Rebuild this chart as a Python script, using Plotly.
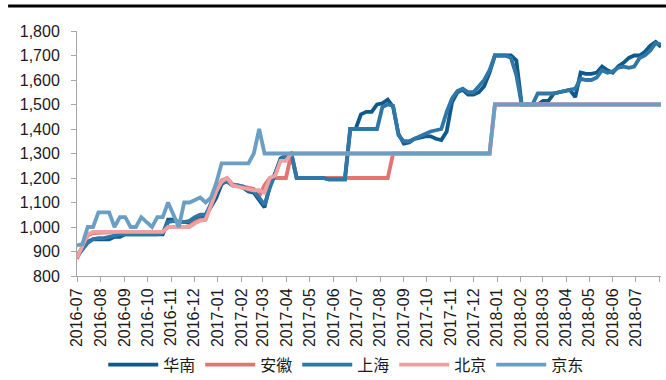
import pandas as pd
import plotly.graph_objects as go

# Weekly observation dates (Friday prints), Jul 2016 - Aug 2018
weeks = pd.date_range("2016-07-01", periods=110, freq="7D")

# 华南
south_china = [
    885, 910, 940, 950, 950, 950, 950, 960, 960, 970,
    970, 970, 970, 970, 970, 970, 970, 1030, 1030, 1020,
    1020, 1020, 1035, 1045, 1045, 1085, 1120, 1175, 1190, 1170,
    1170, 1160, 1145, 1140, 1110, 1080, 1170, 1220, 1280, 1290,
    1300, 1200, 1200, 1200, 1200, 1200, 1200, 1195, 1195, 1195,
    1195, 1400, 1400, 1460, 1470, 1470, 1500, 1505, 1520, 1490,
    1380, 1340, 1345, 1360, 1365, 1370, 1370, 1360, 1355, 1390,
    1510, 1550, 1560, 1540, 1540, 1550, 1575, 1630, 1700, 1700,
    1700, 1700, 1680, 1500, 1500, 1500, 1500, 1515, 1515, 1545,
    1550, 1555, 1560, 1530, 1630, 1625, 1625, 1630, 1655, 1640,
    1630, 1655, 1670, 1690, 1700, 1700, 1715, 1740, 1755, 1735,
]

# 安徽
anhui = [
    870, 920, 965, 975, 975, 975, 978, 980, 980, 980,
    980, 980, 980, 980, 980, 980, 980, 1000, 1000, 1000,
    1000, 1005, 1020, 1030, 1030, 1095, 1150, 1190, 1200, 1175,
    1170, 1165, 1160, 1155, 1125, 1170, 1200, 1200, 1200, 1200,
    1300, 1200, 1200, 1200, 1200, 1200, 1200, 1200, 1200, 1200,
    1200, 1200, 1200, 1200, 1200, 1200, 1200, 1200, 1200, 1300,
    1300, 1300, 1300, 1300, 1300, 1300, 1300, 1300, 1300, 1300,
    1300, 1300, 1300, 1300, 1300, 1300, 1300, 1300, 1500, 1500,
    1500, 1500, 1500, 1500, 1500, 1500, 1500, 1500, 1500, 1500,
    1500, 1500, 1500, 1500, 1500, 1500, 1500, 1500, 1500, 1500,
    1500, 1500, 1500, 1500, 1500, 1500, 1500, 1500, 1500, 1500,
]

# 上海
shanghai = [
    880, 905, 935, 950, 955, 955, 960, 965, 970, 970,
    970, 970, 970, 970, 970, 970, 975, 1020, 1025, 1020,
    1020, 1025, 1040, 1050, 1050, 1095, 1150, 1180, 1185, 1170,
    1170, 1165, 1150, 1145, 1120, 1090, 1160, 1215, 1275, 1290,
    1300, 1200, 1200, 1200, 1200, 1200, 1200, 1195, 1195, 1195,
    1195, 1400, 1400, 1400, 1400, 1400, 1400, 1490, 1500, 1495,
    1375, 1350, 1350, 1360, 1370, 1380, 1390, 1395, 1400, 1470,
    1525, 1555, 1565, 1550, 1550, 1575, 1600, 1640, 1700, 1700,
    1700, 1690, 1620, 1500, 1500, 1500, 1545, 1545, 1545, 1545,
    1550, 1555, 1560, 1565, 1605, 1600, 1600, 1610, 1640, 1630,
    1635, 1650, 1655, 1650, 1655, 1690, 1700, 1720, 1750, 1745,
]

# 北京
beijing = [
    875, 925, 970, 980, 980, 980, 980, 980, 980, 980,
    980, 980, 980, 980, 980, 980, 980, 1000, 1000, 1000,
    1000, 1000, 1015, 1025, 1030, 1090, 1145, 1185, 1200, 1170,
    1165, 1160, 1155, 1150, 1150, 1140, 1200, 1210, 1270, 1270,
    1300, 1300, 1300, 1300, 1300, 1300, 1300, 1300, 1300, 1300,
    1300, 1300, 1300, 1300, 1300, 1300, 1300, 1300, 1300, 1300,
    1300, 1300, 1300, 1300, 1300, 1300, 1300, 1300, 1300, 1300,
    1300, 1300, 1300, 1300, 1300, 1300, 1300, 1300, 1500, 1500,
    1500, 1500, 1500, 1500, 1500, 1500, 1500, 1500, 1500, 1500,
    1500, 1500, 1500, 1500, 1500, 1500, 1500, 1500, 1500, 1500,
    1500, 1500, 1500, 1500, 1500, 1500, 1500, 1500, 1500, 1500,
]

# 京东
jd = [
    925, 930, 1000, 1000, 1060, 1060, 1060, 1000, 1040, 1040,
    1000, 1000, 1040, 1020, 1000, 1040, 1040, 1100, 1050, 1000,
    1100, 1100, 1110, 1120, 1100, 1120, 1180, 1260, 1260, 1260,
    1260, 1260, 1260, 1300, 1400, 1300, 1300, 1300, 1300, 1300,
    1300, 1300, 1300, 1300, 1300, 1300, 1300, 1300, 1300, 1300,
    1300, 1300, 1300, 1300, 1300, 1300, 1300, 1300, 1300, 1300,
    1300, 1300, 1300, 1300, 1300, 1300, 1300, 1300, 1300, 1300,
    1300, 1300, 1300, 1300, 1300, 1300, 1300, 1300, 1500, 1500,
    1500, 1500, 1500, 1500, 1500, 1500, 1500, 1500, 1500, 1500,
    1500, 1500, 1500, 1500, 1500, 1500, 1500, 1500, 1500, 1500,
    1500, 1500, 1500, 1500, 1500, 1500, 1500, 1500, 1500, 1500,
]

series_names = ["华南", "安徽", "上海", "北京", "京东"]
series_values = [south_china, anhui, shanghai, beijing, jd]
series_colors = ["#0f5a8b", "#e47474", "#2f77a7", "#efa1a1", "#6a9fc3"]

FONT = "Liberation Sans, Arial, Noto Sans CJK SC, sans-serif"
AXIS_GREY = "#a6a6a6"

fig = go.Figure()
for name, vals, color in zip(series_names, series_values, series_colors):
    fig.add_trace(go.Scatter(
        x=weeks, y=vals, name=name, mode="lines",
        line=dict(color=color, width=3.8),
    ))

fig.update_layout(
    width=666, height=380,
    margin=dict(l=77, r=5, t=31, b=104, autoexpand=False),
    paper_bgcolor="white", plot_bgcolor="white",
    font=dict(family=FONT, size=16, color="#1a1a1a"),
    showlegend=True,
    legend=dict(
        orientation="h", xref="container", yref="container",
        xanchor="left", yanchor="middle",
        x=0.155, y=0.04,
        font=dict(size=16, color="#1a1a1a"),
        itemwidth=50, entrywidth=32, entrywidthmode="pixels",
        bgcolor="rgba(0,0,0,0)",
    ),
    shapes=[dict(
        type="line", xref="paper", yref="paper",
        x0=-0.118, x1=1.01, y0=1.102, y1=1.102,
        line=dict(color="black", width=3),
    )],
)

fig.update_xaxes(
    type="date",
    range=["2016-07-01", "2018-08-03"],
    tick0="2016-07-01", dtick="M1", tickformat="%Y-%m",
    tickangle=-90,
    ticks="outside", ticklen=5, tickcolor=AXIS_GREY,
    showline=True, linecolor=AXIS_GREY, linewidth=1,
    showgrid=False, zeroline=False, automargin=False,
    tickfont=dict(size=16, color="#1a1a1a"),
)
fig.update_yaxes(
    range=[800, 1800], dtick=100, tickformat=",d",
    ticks="outside", ticklen=5, tickcolor=AXIS_GREY,
    showline=True, linecolor=AXIS_GREY, linewidth=1,
    showgrid=False, zeroline=False, automargin=False,
    ticklabelstandoff=8,
    tickfont=dict(size=16, color="#1a1a1a"),
)

fig.write_html("out.html")
